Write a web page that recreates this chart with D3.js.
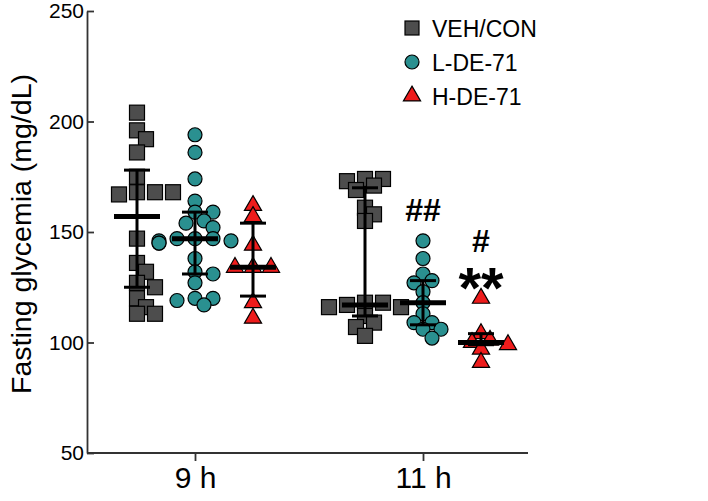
<!DOCTYPE html>
<html><head><meta charset="utf-8">
<script src="https://cdn.jsdelivr.net/npm/d3@7"></script>
<style>body{margin:0;background:#fff}text{font-family:"Liberation Sans",Arial,sans-serif}</style>
</head><body><svg id="c" width="708" height="501"></svg>
<script>
const timepoints = ['9 h', '11 h']
const groups = ['VEH/CON', 'L-DE-71', 'H-DE-71']
const yTicks = [50, 100, 150, 200, 250]
// values per group per timepoint
const veh9 = [204,196,192,186,175,168,168,167,168,147,136,132,127,125,120,116,113,113]
const low9 = [194,186,174,164,159,159,155,154,152,147,147,147,146,146,145,145,138,132,131,127,120,120,119,117]
const high9 = [162,157,144,134,134,134,118,111]
const veh11 = [174,174,173,171,169,161,158,155,118,118,117,116,116,112,109,107,103]
const low11 = [146,138,131,128,127,123,118,113,109,109,106,106,102]
const high11 = [120,104,101,100,99,97,91]
// median and interquartile range
const summary9 = [{mid:157,lo:125,hi:178},{mid:147,lo:131,hi:159},{mid:134,lo:121,hi:154}]
const summary11 = [{mid:117,lo:112,hi:170},{mid:118,lo:108,hi:128},{mid:100,lo:99,hi:104}]
// significance marks: text and the glycemia level they sit at
const marks = [{t:1,g:1,text:'##',at:160},{t:1,g:2,text:'#',at:146},{t:1,g:2,text:'**',at:132}]

const data = [[veh9, low9, high9], [veh11, low11, high11]]
const summaries = [summary9, summary11]
const colors = ['#4d4d4d', '#2a9090', '#ee1c1c']

const svg = d3.select('#c')
const m = {l:87, t:11, b:48}
const H = 501
const y = d3.scaleLinear().domain([50, 250]).range([H - m.b, m.t])
const xT = d3.scalePoint().domain(timepoints).range([195, 423])
const gOff = d3.scalePoint().domain(groups).range([-58, 58])

const fix = g => {
  g.attr('font-family', null)
  g.selectAll('path,line').attr('stroke', '#333').attr('stroke-width', 1.8)
  g.selectAll('text').attr('fill', '#000')
}
svg.append('g').attr('transform', `translate(${m.l},0)`)
  .call(d3.axisLeft(y).tickValues(yTicks).tickSize(-7).tickSizeOuter(0).tickPadding(3)).call(fix)
  .attr('font-size', 21)
svg.append('g').attr('transform', `translate(0,${H - m.b})`)
  .call(d3.axisBottom(xT).tickSize(8).tickSizeOuter(0).tickPadding(6)).call(fix)
  .call(g => g.select('.domain').attr('d', `M${m.l},0H528`))
  .attr('font-size', 30)
svg.append('text').attr('transform', `translate(31,${(m.t + H - m.b) / 2 + 2}) rotate(-90)`)
  .attr('text-anchor', 'middle').attr('font-size', 28.5).text('Fasting glycemia (mg/dL)')

function symbol(sel, gi, size) {
  if (gi === 0) sel.append('rect').attr('x', -size).attr('y', -size).attr('width', size * 2).attr('height', size * 2)
  else if (gi === 1) sel.append('circle').attr('r', size)
  else sel.append('path').attr('d', d3.symbol(d3.symbolTriangle, size * size * 2.6)())
  sel.attr('fill', colors[gi]).attr('stroke', '#000').attr('stroke-width', 1.2)
}

// simple dodge so overlapping points spread sideways
function dodge(vals, dia) {
  const placed = []
  return vals.map(v => {
    const py = y(v)
    let best = 0
    for (let k = 0; k < 9; k++) {
      const off = (k % 2 ? 1 : -1) * Math.ceil(k / 2) * dia * 0.6
      best = off
      if (placed.every(p => Math.hypot(p.x - off, p.y - py) >= dia * 0.7)) break
    }
    placed.push({x: best, y: py})
    return {v, dx: best}
  })
}

timepoints.forEach((t, ti) => {
  groups.forEach((g, gi) => {
    const cx = xT(t) + gOff(g)
    const gr = svg.append('g').attr('transform', `translate(${cx},0)`)
    const sz = gi === 0 ? 7.5 : 7
    dodge(data[ti][gi], 15).forEach(p => {
      gr.append('g').attr('transform', `translate(${p.dx},${y(p.v)})`).call(symbol, gi, sz)
    })
    const s = summaries[ti][gi]
    gr.append('line').attr('y1', y(s.lo)).attr('y2', y(s.hi)).attr('stroke', '#000').attr('stroke-width', 3)
    ;[s.lo, s.hi].forEach(v => gr.append('line').attr('x1', -13).attr('x2', 13).attr('y1', y(v)).attr('y2', y(v))
      .attr('stroke', '#000').attr('stroke-width', 3))
    gr.append('line').attr('x1', -23).attr('x2', 23).attr('y1', y(s.mid)).attr('y2', y(s.mid))
      .attr('stroke', '#000').attr('stroke-width', 5)
  })
})

marks.forEach(mk => {
  const cx = xT(timepoints[mk.t]) + gOff(groups[mk.g])
  const star = mk.text === '**'
  svg.append('text').attr('x', cx).attr('y', y(mk.at)).attr('text-anchor', 'middle')
    .attr('dy', star ? '0.62em' : '0.36em')
    .attr('font-size', star ? 58 : 32).attr('font-weight', 'bold').text(mk.text)
})

const lg = svg.append('g').attr('transform', 'translate(412,28)')
groups.forEach((g, gi) => {
  const row = lg.append('g').attr('transform', `translate(0,${gi * 34})`)
  row.append('g').call(symbol, gi, 7)
  row.append('text').attr('x', 20).attr('y', 9).attr('font-size', 23).text(g)
})
</script></body></html>
